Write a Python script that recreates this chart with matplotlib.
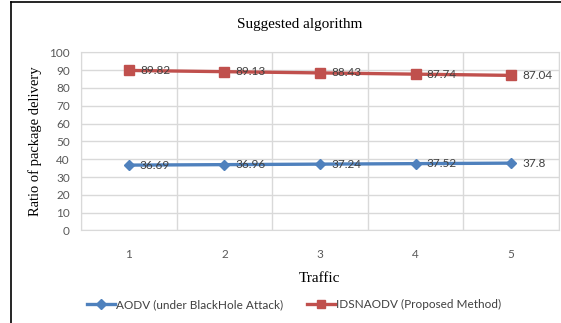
import matplotlib.pyplot as plt
from matplotlib.lines import Line2D

# Packet delivery ratio per traffic level
traffic = [1, 2, 3, 4, 5]
aodv = [36.69, 36.96, 37.24, 37.52, 37.8]
idsnaodv = [89.82, 89.13, 88.43, 87.74, 87.04]
aodv_label = "AODV (under BlackHole Attack)"
ids_label = "IDSNAODV (Proposed Method)"

blue = "#4F81BD"
red = "#C0504D"
grid_col = "#D9D9D9"
text_col = "#404040"
sans = ["Lato", "DejaVu Sans"]
serif = ["Liberation Serif", "DejaVu Serif"]

fig = plt.figure(figsize=(5.61, 3.23), dpi=100)
ax = fig.add_axes([0.1444, 0.2864, 0.852, 0.5517])

ax.plot(traffic, aodv, color=blue, lw=2.4, marker="D", ms=5.5, label=aodv_label)
ax.plot(traffic, idsnaodv, color=red, lw=2.4, marker="s", ms=7, label=ids_label)

# value labels just right of each point
for x, y in zip(traffic, aodv):
    ax.annotate(f"{y:g}", (x, y), xytext=(8, 0), textcoords="offset points",
                ha="left", va="center", fontsize=8.5, color=text_col, family=sans)
for x, y in zip(traffic, idsnaodv):
    ax.annotate(f"{y:g}", (x, y), xytext=(8, 0), textcoords="offset points",
                ha="left", va="center", fontsize=8.5, color=text_col, family=sans)

ax.set_xlim(0.5, 5.5)
ax.set_ylim(0, 100)
ax.set_yticks(range(0, 101, 10))
ax.set_xticks(traffic)
ax.set_xticks([0.5, 1.5, 2.5, 3.5, 4.5, 5.5], minor=True)
ax.grid(True, axis="y", color=grid_col, lw=1)
ax.grid(True, axis="x", which="minor", color=grid_col, lw=1)
ax.set_axisbelow(True)
for s in ax.spines.values():
    s.set_color(grid_col)
ax.tick_params(which="both", length=0)
ax.tick_params(axis="x", pad=13)
ax.tick_params(axis="y", pad=8)
for lab in ax.get_xticklabels() + ax.get_yticklabels():
    lab.set_family(sans)
    lab.set_fontsize(8.5)
    lab.set_color("#595959")

ax.set_xlabel("Traffic", family=serif, fontsize=11, labelpad=9)
ax.set_ylabel("Ratio of package delivery", family=serif, fontsize=10.5, labelpad=5)
fig.text(0.535, 0.925, "Suggested algorithm", family=serif, fontsize=11,
         ha="center", va="center")

fig.legend(loc="center", bbox_to_anchor=(0.524, 0.057), ncol=2, frameon=False,
           prop={"family": sans, "size": 8.5}, handlelength=2.4, columnspacing=2.0,
           handletextpad=0.1, labelcolor=text_col, markerscale=0.85)

# outer frame on the left and top
fig.add_artist(Line2D([11 / 561, 11 / 561], [0, 1 - 2 / 323], transform=fig.transFigure,
                      color="black", lw=1.2))
fig.add_artist(Line2D([11 / 561, 1], [1 - 2 / 323, 1 - 2 / 323], transform=fig.transFigure,
                      color="black", lw=1.2))

fig.savefig("out.png", dpi=100, facecolor="white")
